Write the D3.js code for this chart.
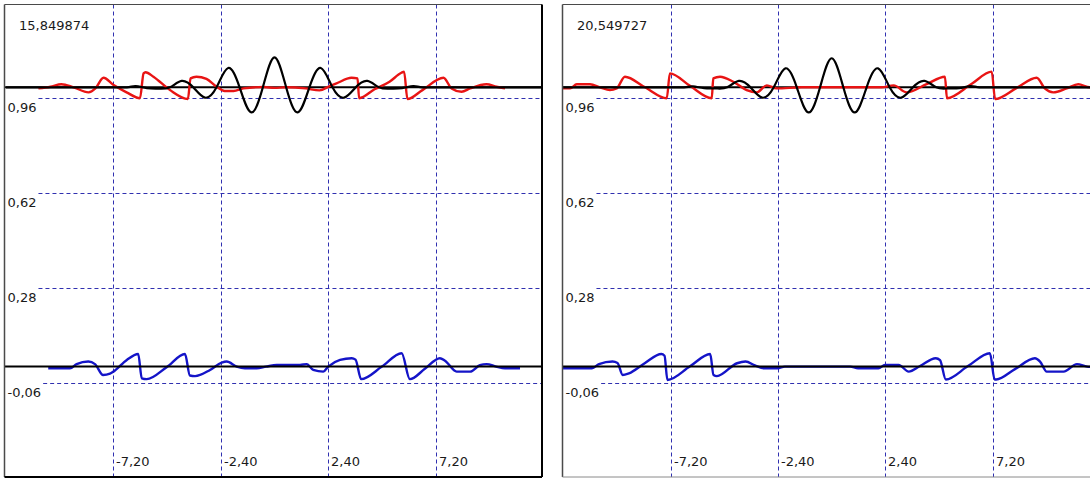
<!DOCTYPE html>
<html><head><meta charset="utf-8">
<script src="https://cdn.jsdelivr.net/npm/d3@7"></script>
<style>html,body{margin:0;padding:0;background:#fff;overflow:hidden}</style>
</head><body>
<svg id="chart" width="1090" height="478"></svg>
<script>
// ---------- data ----------
const titles = ["15,849874", "20,549727"];
const yTicks = [0.96, 0.62, 0.28, -0.06];
const yTickLabels = ["0,96", "0,62", "0,28", "-0,06"];
const xTicks = [-7.2, -2.4, 2.4, 7.2];
const xTickLabels = ["-7,20", "-2,40", "2,40", "7,20"];

// black curve (upper trace, offset level 1)
const blackX = [-12,-8,-6.6,-6.2,-5.70,-5.18,-4.67,-4.15,-3.63,-3.11,-2.59,-2.07,-1.56,-1.04,-0.52,0,0.52,1.04,1.56,2.07,2.59,3.11,3.63,4.15,4.67,5.18,5.70,6.2,6.6,8,12];
const blackY1 = [1,1,1,1.004,0.997,0.995,1,1.023,1,0.963,1,1.069,1,0.910,1,1.107,1,0.910,1,1.069,1,0.963,1,1.023,1,0.995,0.997,1.004,1,1,1];
const blackY2 = [1,1,1,1.003,0.997,0.996,1,1.023,1,0.963,1,1.068,1,0.910,1,1.104,1,0.910,1,1.068,1,0.963,1,1.023,1,0.996,0.997,1.004,1,1,1];

// red curve (upper trace)
const redX1 = [-10.55,-10.01,-9.52,-8.98,-8.31,-8.00,-7.64,-7.19,-6.61,-6.01,-5.85,-5.76,-5.41,-4.67,-3.87,-3.75,-3.49,-3.04,-2.59,-2.23,-1.83,-1.39,-0.49,0,0.49,1.39,2.01,2.46,2.77,3.44,3.71,3.78,4.47,5.14,5.67,5.79,5.94,6.61,7.55,7.91,8.36,8.74,9.47,9.92,10.30];
const redY1 = [0.996,1.002,1.011,1.000,0.982,0.996,1.034,1.008,0.982,0.961,1.050,1.054,1.038,0.990,0.958,1.032,1.038,1.030,1.002,0.987,0.987,0.996,1.001,0.998,1.000,0.996,0.989,1.004,1.014,1.034,1.032,0.961,0.993,1.020,1.052,1.056,0.958,0.990,1.034,0.996,0.984,0.996,1.011,1.002,0.996];
const redX2 = [-12.06,-11.69,-11.39,-10.80,-10.35,-9.91,-9.61,-9.24,-8.34,-7.37,-7.23,-6.33,-5.36,-5.29,-4.99,-4.40,-3.80,-3.35,-2.90,-2.46,-1.34,0,1.34,2.23,2.77,3.35,4.24,5.06,5.15,6.26,7.15,7.30,8.27,9.16,9.52,9.90,10.50,11.02,11.53,11.97];
const redY2 = [0.996,0.996,1.011,1.011,1.000,0.990,0.996,1.038,1.000,0.961,1.050,1.005,0.961,1.032,1.038,1.020,0.990,0.982,1.007,0.996,1.000,1.000,1.000,1.000,1.007,0.982,1.011,1.038,0.961,1.013,1.056,0.958,0.998,1.034,0.996,0.982,0.996,1.011,1.000,1.000];

// blue curve (lower trace, offset level 0)
const blueX1 = [-10.11,-9.14,-8.84,-8.32,-8.02,-7.66,-7.35,-7.20,-6.60,-6.09,-5.93,-5.71,-4.82,-4.00,-3.78,-3.55,-2.88,-2.36,-2.14,-1.69,-1.32,-0.80,-0.38,0.10,1.14,1.44,1.73,2.18,2.40,2.93,3.45,3.62,3.87,4.80,5.68,6.05,6.72,7.39,7.62,8.14,8.74,9.18,9.48,9.90,10.30,10.97];
const blueY1 = [-0.006,-0.006,0.009,0.018,0.009,-0.030,-0.025,-0.018,0.024,0.045,-0.042,-0.045,-0.002,0.045,-0.032,-0.034,-0.012,0.014,0.018,0.000,-0.006,-0.006,0.000,0.006,0.006,0.009,-0.012,-0.018,0.000,0.024,0.030,0.025,-0.045,0.000,0.048,-0.045,-0.008,0.030,0.021,-0.018,-0.018,0.005,0.009,0.000,-0.006,-0.006];
const blueX2 = [-12.05,-10.71,-10.40,-9.79,-9.57,-9.34,-9.06,-8.34,-7.61,-7.47,-7.34,-6.33,-5.43,-5.28,-5.13,-4.23,-3.85,-3.43,-3.03,-2.42,-2.09,0,0.82,1.18,2.09,2.38,2.99,3.44,3.95,4.65,4.84,5.10,6.09,7.07,7.28,7.35,8.19,9.08,9.31,9.61,10.36,10.96,11.41,11.97];
const blueY2 = [-0.006,-0.006,0.009,0.018,0.013,-0.030,-0.024,0.013,0.045,0.039,-0.048,0.001,0.045,-0.030,-0.034,0.012,0.018,0.004,-0.006,-0.006,0.000,0.000,0.000,-0.006,-0.006,0.006,0.006,-0.018,0.002,0.030,0.023,-0.046,0.002,0.048,-0.046,-0.046,-0.009,0.030,0.018,-0.018,-0.018,0.009,0.000,-0.003];

// ---------- drawing ----------
const svg = d3.select("#chart");
const FONT = "'DejaVu Sans', Verdana, sans-serif";
const TOP = 4.5, BOTTOM = 477;
const UNIT = 22.38;

const panels = [
  {title: titles[0], left: 4.5, right: 542, center: 274.5, blackY: blackY1,
   redX: redX1, redY: redY1, blueX: blueX1, blueY: blueY1, botColor: "#000", botW: 2},
  {title: titles[1], left: 562.5, right: 1101, center: 831.7, blackY: blackY2,
   redX: redX2, redY: redY2, blueX: blueX2, blueY: blueY2, botColor: "#8a8a8a", botW: 1}
];

const gridColor = "#3030b0";

panels.forEach((p, pi) => {
  const g = svg.append("g");
  const x = d3.scaleLinear().domain([-12, 12]).range([p.center - 12 * UNIT, p.center + 12 * UNIT]);
  const y = d3.scaleLinear().domain([0, 1]).range([366.6, 87.3]);

  g.append("clipPath").attr("id", "clip" + pi).append("rect")
    .attr("x", p.left).attr("y", TOP).attr("width", p.right - p.left).attr("height", BOTTOM - TOP);

  g.append("rect").attr("x", p.left).attr("y", TOP)
    .attr("width", p.right - p.left).attr("height", BOTTOM - TOP).attr("fill", "#fff");

  // vertical grid lines + x labels
  g.selectAll("line.vg").data(xTicks).join("line").attr("class", "vg")
    .attr("x1", d => Math.round(x(d)) + 0.5).attr("x2", d => Math.round(x(d)) + 0.5)
    .attr("y1", TOP).attr("y2", BOTTOM)
    .attr("stroke", gridColor).attr("stroke-width", 1).attr("stroke-dasharray", "4,3");
  g.selectAll("text.xl").data(xTicks).join("text").attr("class", "xl")
    .attr("x", d => Math.round(x(d)) + 3).attr("y", 466)
    .attr("font-family", FONT).attr("font-size", 13).attr("fill", "#1a1a1a")
    .text((d, i) => xTickLabels[i]);

  // horizontal grid lines + y labels
  yTicks.forEach((v, i) => {
    const lx = p.left + 3;
    const t = g.append("text").attr("x", lx).attr("y", y(v) + 14)
      .attr("font-family", FONT).attr("font-size", 13).attr("fill", "#1a1a1a")
      .text(yTickLabels[i]);
    const w = t.node().getComputedTextLength();
    g.append("line").attr("x1", lx + w + 2).attr("x2", p.right)
      .attr("y1", Math.round(y(v)) + 0.5).attr("y2", Math.round(y(v)) + 0.5)
      .attr("stroke", gridColor).attr("stroke-width", 1).attr("stroke-dasharray", "4,3");
  });

  // title
  g.append("text").attr("x", p.left + 14.5).attr("y", 30)
    .attr("font-family", FONT).attr("font-size", 13).attr("fill", "#1a1a1a").text(p.title);

  const plot = g.append("g").attr("clip-path", `url(#clip${pi})`);
  const lineMono = d3.line().x(d => x(d[0])).y(d => y(d[1])).curve(d3.curveMonotoneX);
  const lineNat = d3.line().x(d => x(d[0])).y(d => y(d[1])).curve(d3.curveNatural);

  // blue (under the zero line)
  plot.append("path").datum(d3.zip(p.blueX, p.blueY)).attr("d", lineMono)
    .attr("fill", "none").attr("stroke", "#1414c8").attr("stroke-width", 2.4).attr("stroke-linejoin", "round");

  // reference lines at 0 and 1
  [0, 1].forEach(v => {
    plot.append("line").attr("x1", p.left).attr("x2", p.right)
      .attr("y1", y(v)).attr("y2", y(v)).attr("stroke", "#000").attr("stroke-width", 2);
  });

  // red
  plot.append("path").datum(d3.zip(p.redX, p.redY)).attr("d", lineMono)
    .attr("fill", "none").attr("stroke", "#e81414").attr("stroke-width", 2.4).attr("stroke-linejoin", "round");

  // black
  plot.append("path").datum(d3.zip(blackX, p.blackY)).attr("d", lineNat)
    .attr("fill", "none").attr("stroke", "#000").attr("stroke-width", 2.2).attr("stroke-linejoin", "round");

  // frame
  g.append("line").attr("x1", p.left).attr("x2", p.right).attr("y1", TOP).attr("y2", TOP)
    .attr("stroke", "#4a4a4a").attr("stroke-width", 1);
  g.append("line").attr("x1", p.left).attr("x2", p.left).attr("y1", TOP).attr("y2", BOTTOM)
    .attr("stroke", "#4a4a4a").attr("stroke-width", 1.5);
  g.append("line").attr("x1", p.right).attr("x2", p.right).attr("y1", TOP).attr("y2", BOTTOM)
    .attr("stroke", "#000").attr("stroke-width", 2);
  g.append("line").attr("x1", p.left).attr("x2", p.right).attr("y1", BOTTOM).attr("y2", BOTTOM)
    .attr("stroke", p.botColor).attr("stroke-width", p.botW);
});
</script>
</body></html>
